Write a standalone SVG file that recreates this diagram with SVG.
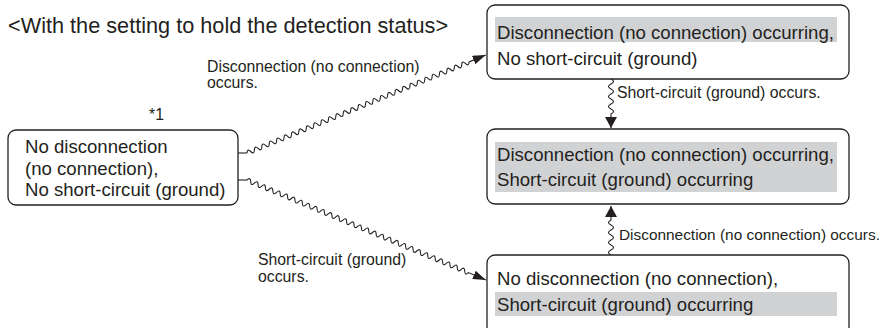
<svg xmlns="http://www.w3.org/2000/svg" width="886" height="328" viewBox="0 0 886 328">
<defs>
<style>
.box{fill:#fff;stroke:#231f20;stroke-width:1.3}
.hl{fill:#d1d2d4}
.t{font-family:"Liberation Sans",Arial,sans-serif;font-size:18.6px;fill:#231f20}
.lbl{font-family:"Liberation Sans",Arial,sans-serif;font-size:15.8px;fill:#231f20}
.title{font-family:"Liberation Sans",Arial,sans-serif;font-size:21.7px;fill:#231f20}
.w{fill:none;stroke:#231f20;stroke-width:1.1}
</style>
<marker id="arrD" viewBox="0 0 13 9" refX="13" refY="4.5" markerWidth="13" markerHeight="9" markerUnits="userSpaceOnUse" orient="auto">
<path d="M0,0 L13,4.5 L0,9 z" fill="#231f20"/>
</marker>
<marker id="arrV" viewBox="0 0 11 12" refX="11" refY="6" markerWidth="11" markerHeight="12" markerUnits="userSpaceOnUse" orient="auto">
<path d="M0,0 L11,6 L0,12 z" fill="#231f20"/>
</marker>
</defs>
<rect width="886" height="328" fill="#fff"/>
<text class="title" x="8" y="33">&lt;With the setting to hold the detection status&gt;</text>

<g id="connectors">
<path class="w" d="M238 153 H247"/>
<g transform="translate(247,153) rotate(-22.3)">
<path class="w" marker-end="url(#arrD)" d="M0 0 q2 -4.5 4 0 t4 0 t4 0 t4 0 t4 0 t4 0 t4 0 t4 0 t4 0 t4 0 t4 0 t4 0 t4 0 t4 0 t4 0 t4 0 t4 0 t4 0 t4 0 t4 0 t4 0 t4 0 t4 0 t4 0 t4 0 t4 0 t4 0 t4 0 t4 0 t4 0 t4 0 t4 0 t4 0 t4 0 t4 0 t4 0 t4 0 t4 0 t4 0 t4 0 t4 0 t4 0 t4 0 t4 0 t4 0 t4 0 t4 0 t4 0 t4 0 t4 0 t4 0 t4 0 t4 0 t4 0 t4 0 t4 0 t4 0 t4 0 t4 0 t4 0 L258 0"/>
</g>
<path class="w" d="M238 180 H247"/>
<g transform="translate(247,180) rotate(22.7)">
<path class="w" marker-end="url(#arrD)" d="M0 0 q2 -4.5 4 0 t4 0 t4 0 t4 0 t4 0 t4 0 t4 0 t4 0 t4 0 t4 0 t4 0 t4 0 t4 0 t4 0 t4 0 t4 0 t4 0 t4 0 t4 0 t4 0 t4 0 t4 0 t4 0 t4 0 t4 0 t4 0 t4 0 t4 0 t4 0 t4 0 t4 0 t4 0 t4 0 t4 0 t4 0 t4 0 t4 0 t4 0 t4 0 t4 0 t4 0 t4 0 t4 0 t4 0 t4 0 t4 0 t4 0 t4 0 t4 0 t4 0 t4 0 t4 0 t4 0 t4 0 t4 0 t4 0 t4 0 t4 0 t4 0 t4 0 L259 0"/>
</g>
<g transform="translate(611,79) rotate(90)">
<path class="w" marker-end="url(#arrV)" d="M0 0 q2.5 -5 5 0 t5 0 t5 0 t5 0 t5 0 t5 0 t5 0 L49 0"/>
</g>
<g transform="translate(611,255) rotate(-90)">
<path class="w" marker-end="url(#arrV)" d="M0 0 q2.5 -5 5 0 t5 0 t5 0 t5 0 t5 0 t5 0 t5 0 L49 0"/>
</g>
<text class="lbl" x="207" y="72">Disconnection (no connection)</text>
<text class="lbl" x="207" y="88">occurs.</text>
<text class="lbl" x="258" y="265">Short-circuit (ground)</text>
<text class="lbl" x="258" y="282">occurs.</text>
<text class="lbl" x="617" y="98">Short-circuit (ground) occurs.</text>
<text class="lbl" x="619" y="240" style="font-size:15.4px">Disconnection (no connection) occurs.</text>
</g>

<g id="node-initial">
<text class="lbl" x="149" y="120">*1</text>
<rect class="box" x="8" y="130" width="230" height="75" rx="8"/>
<text class="t" x="25" y="153">No disconnection</text>
<text class="t" x="25" y="175">(no connection),</text>
<text class="t" x="25" y="196">No short-circuit (ground)</text>
</g>

<g id="node-disconnection">
<rect class="box" x="487" y="5" width="362" height="74" rx="8"/>
<rect class="hl" x="495" y="17" width="342" height="25"/>
<text class="t" x="497" y="39">Disconnection (no connection) occurring,</text>
<text class="t" x="497" y="65">No short-circuit (ground)</text>
</g>

<g id="node-both">
<rect class="box" x="487" y="129" width="362" height="75" rx="8"/>
<rect class="hl" x="495" y="142" width="342" height="50"/>
<text class="t" x="497" y="161">Disconnection (no connection) occurring,</text>
<text class="t" x="497" y="186">Short-circuit (ground) occurring</text>
</g>

<g id="node-short">
<rect class="box" x="487" y="255" width="362" height="80" rx="8"/>
<rect class="hl" x="495" y="292" width="342" height="24"/>
<text class="t" x="497" y="285">No disconnection (no connection),</text>
<text class="t" x="497" y="311">Short-circuit (ground) occurring</text>
</g>
</svg>
